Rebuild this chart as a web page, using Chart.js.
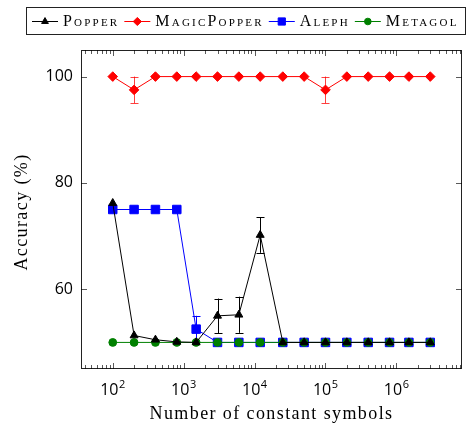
<!DOCTYPE html>
<html><head><meta charset="utf-8">
<script src="https://cdn.jsdelivr.net/npm/chart.js@4"></script>
<style>html,body{margin:0;padding:0;background:#fff}#wrap{width:469px;height:428px}</style>
</head><body><div id="wrap"><canvas id="c" width="469" height="428"></canvas></div>
<script>
// ---- data ----
const xValues = [100, 200, 400, 800, 1500, 3000, 6000, 12000, 25000, 50000, 100000, 200000, 400000, 800000, 1500000, 3000000];
const popperAcc      = [76.2, 51.3, 50.5, 50.1, 50, 55, 55.2, 70.2, 50, 50, 50, 50, 50, 50, 50, 50];
const popperErr      = [0, 0, 0, 0, 0, 3.25, 3.4, 3.35, 0, 0, 0, 0, 0, 0, 0, 0];
const magicAcc       = [100, 97.5, 100, 100, 100, 100, 100, 100, 100, 100, 97.5, 100, 100, 100, 100, 100];
const magicErr       = [0, 2.5, 0, 0, 0, 0, 0, 0, 0, 0, 2.5, 0, 0, 0, 0, 0];
const alephAcc       = [75, 75, 75, 75, 52.5, 50, 50, 50, 50, 50, 50, 50, 50, 50, 50, 50];
const alephErr       = [0, 0, 0, 0, 2.5, 0, 0, 0, 0, 0, 0, 0, 0, 0, 0, 0];
const metagolAcc     = [50, 50, 50, 50, 50, 50, 50, 50, 50, 50, 50, 50, 50, 50, 50, 50];
const seriesNames    = ['Popper', 'MagicPopper', 'Aleph', 'Metagol'];
const xTickPowers    = [2, 3, 4, 5, 6];
const yTickValues    = [60, 80, 100];
const xTitle = 'Number of constant symbols';
const yTitle = 'Accuracy (%)';

// ---- styles ----
const styles = [
  {color: '#000000', err: '#000000', pointStyle: 'triangle', radius: 4.6, order: 1},
  {color: '#ff0000', err: 'rgba(255,0,0,0.75)', pointStyle: 'rectRot', radius: 4.8, order: 2},
  {color: '#0000ff', err: '#0000ff', pointStyle: 'rect', radius: 6, order: 4},
  {color: '#008000', err: '#008000', pointStyle: 'circle', radius: 3.9, order: 3}
];
const values = [popperAcc, magicAcc, alephAcc, metagolAcc];
const errors = [popperErr, magicErr, alephErr, null];

const datasets = values.map((vals, k) => ({
  label: seriesNames[k],
  data: xValues.map((x, i) => ({x: x, y: vals[i]})),
  borderColor: styles[k].color,
  backgroundColor: styles[k].color,
  pointBackgroundColor: styles[k].color,
  pointBorderColor: styles[k].color,
  borderWidth: 1,
  pointBorderWidth: 1,
  pointStyle: styles[k].pointStyle,
  pointRadius: styles[k].radius,
  tension: 0,
  fill: false,
  order: styles[k].order,
  errs: errors[k],
  errColor: styles[k].err
}));

function marker(ctx, style, r, x, y) {
  if (Chart.helpers && Chart.helpers.drawPoint) {
    Chart.helpers.drawPoint(ctx, {pointStyle: style, radius: r, rotation: 0, borderWidth: 1}, x, y);
    return;
  }
  ctx.beginPath();
  if (style === 'circle') ctx.arc(x, y, r, 0, Math.PI * 2);
  else if (style === 'rect') { const s = r * Math.SQRT1_2; ctx.rect(x - s, y - s, 2 * s, 2 * s); }
  else if (style === 'rectRot') { ctx.moveTo(x - r, y); ctx.lineTo(x, y - r); ctx.lineTo(x + r, y); ctx.lineTo(x, y + r); ctx.closePath(); }
  else { ctx.moveTo(x, y - r); ctx.lineTo(x + r * 0.866, y + r / 2); ctx.lineTo(x - r * 0.866, y + r / 2); ctx.closePath(); }
  ctx.fill(); ctx.stroke();
}

const deco = {
  id: 'deco',
  beforeDatasetsDraw(chart) {
    const ctx = chart.ctx, a = chart.chartArea;
    const xs = chart.scales.x, ys = chart.scales.y;
    ctx.save();
    // frame
    ctx.strokeStyle = '#222'; ctx.lineWidth = 1;
    ctx.strokeRect(Math.round(a.left) + 0.5, Math.round(a.top) + 0.5, Math.round(a.right - a.left) - 1, Math.round(a.bottom - a.top) - 1);
    // ticks
    ctx.strokeStyle = 'rgba(0,0,0,0.65)';
    ctx.beginPath();
    for (let d = 1; d <= 6; d++) {
      for (let m = 1; m <= 9; m++) {
        const v = m * Math.pow(10, d);
        if (v < xs.min || v > xs.max) continue;
        const px = Math.round(xs.getPixelForValue(v)) + 0.5;
        const len = (m === 1) ? 6 : 4;
        ctx.moveTo(px, a.bottom); ctx.lineTo(px, a.bottom - len);
        ctx.moveTo(px, a.top); ctx.lineTo(px, a.top + len);
      }
    }
    yTickValues.forEach(v => {
      const py = Math.round(ys.getPixelForValue(v)) + 0.5;
      ctx.moveTo(a.left, py); ctx.lineTo(a.left + 6, py);
      ctx.moveTo(a.right, py); ctx.lineTo(a.right - 6, py);
    });
    ctx.stroke();
    // error bars
    chart.data.datasets.forEach(ds => {
      if (!ds.errs) return;
      ctx.strokeStyle = ds.errColor; ctx.lineWidth = 1;
      ds.data.forEach((p, i) => {
        const e = ds.errs[i];
        if (!e) return;
        const px = Math.round(xs.getPixelForValue(p.x)) + 0.5;
        const yt = ys.getPixelForValue(p.y + e), yb = ys.getPixelForValue(p.y - e);
        ctx.beginPath();
        ctx.moveTo(px, yt); ctx.lineTo(px, yb);
        ctx.moveTo(px - 4, Math.round(yt) + 0.5); ctx.lineTo(px + 4, Math.round(yt) + 0.5);
        ctx.moveTo(px - 4, Math.round(yb) + 0.5); ctx.lineTo(px + 4, Math.round(yb) + 0.5);
        ctx.stroke();
      });
    });
    ctx.restore();
  },
  afterDraw(chart) {
    const ctx = chart.ctx, a = chart.chartArea;
    const xs = chart.scales.x;
    ctx.save();
    // x tick labels 10^n
    ctx.fillStyle = '#000';
    ctx.textBaseline = 'alphabetic';
    ctx.textAlign = 'left';
    xTickPowers.forEach(p => {
      const px = xs.getPixelForValue(Math.pow(10, p));
      ctx.font = "16px 'Open Sans'";
      const w1 = ctx.measureText('10').width;
      ctx.font = "11px 'Open Sans'";
      const w2 = ctx.measureText(String(p)).width;
      const start = px - (w1 + w2 + 0.5) / 2;
      ctx.font = "16px 'Open Sans'";
      ctx.fillText('10', start, 395);
      ctx.font = "11px 'Open Sans'";
      ctx.fillText(String(p), start + w1 + 0.5, 387.5);
    });
    // axis titles
    ctx.font = "18px 'Liberation Serif'";
    ctx.letterSpacing = '1.4px';
    ctx.textAlign = 'center';
    ctx.textBaseline = 'middle';
    ctx.fillText(xTitle, (a.left + a.right) / 2, 414);
    ctx.save();
    ctx.translate(22, 212);
    ctx.rotate(-Math.PI / 2);
    ctx.fillText(yTitle, 0, 0);
    ctx.restore();
    // legend
    ctx.letterSpacing = '0px';
    ctx.strokeStyle = '#222'; ctx.lineWidth = 1;
    ctx.strokeRect(26.5, 7.5, 439, 27);
    const cy = 21;
    let x = 32;
    chart.data.datasets.forEach((ds, k) => {
      const st = styles[k];
      ctx.strokeStyle = st.color; ctx.fillStyle = st.color; ctx.lineWidth = 1;
      ctx.beginPath(); ctx.moveTo(x, cy + 0.5); ctx.lineTo(x + 26, cy + 0.5); ctx.stroke();
      marker(ctx, st.pointStyle, st.radius * 0.85, x + 13, cy + 0.5);
      ctx.fillStyle = '#000';
      ctx.font = "small-caps 16px 'Liberation Serif'";
      ctx.letterSpacing = '2.2px';
      ctx.textAlign = 'left';
      ctx.textBaseline = 'alphabetic';
      ctx.fillText(ds.label, x + 31, 26);
      const w = ctx.measureText(ds.label).width;
      ctx.letterSpacing = '0px';
      x += 31 + w + 5;
    });
    ctx.restore();
  }
};

new Chart(document.getElementById('c'), {
  type: 'line',
  data: {datasets: datasets},
  options: {
    responsive: false,
    animation: false,
    devicePixelRatio: 1,
    layout: {padding: {top: 50, right: 3, left: 0, bottom: 0}},
    plugins: {legend: {display: false}, tooltip: {enabled: false}, title: {display: false}},
    scales: {
      x: {
        type: 'logarithmic',
        min: 35.67, max: 8.41e6,
        ticks: {display: false},
        grid: {display: false, drawTicks: false},
        border: {display: false},
        afterFit: s => { s.height = 59; }
      },
      y: {
        type: 'linear',
        min: 45, max: 105,
        afterBuildTicks: s => { s.ticks = yTickValues.map(v => ({value: v})); },
        ticks: {font: {family: "'Open Sans'", size: 16}, color: '#000', padding: 8},
        grid: {display: false, drawTicks: false},
        border: {display: false},
        afterFit: s => { s.width = 81; }
      }
    }
  },
  plugins: [deco]
});
</script>
</body></html>
